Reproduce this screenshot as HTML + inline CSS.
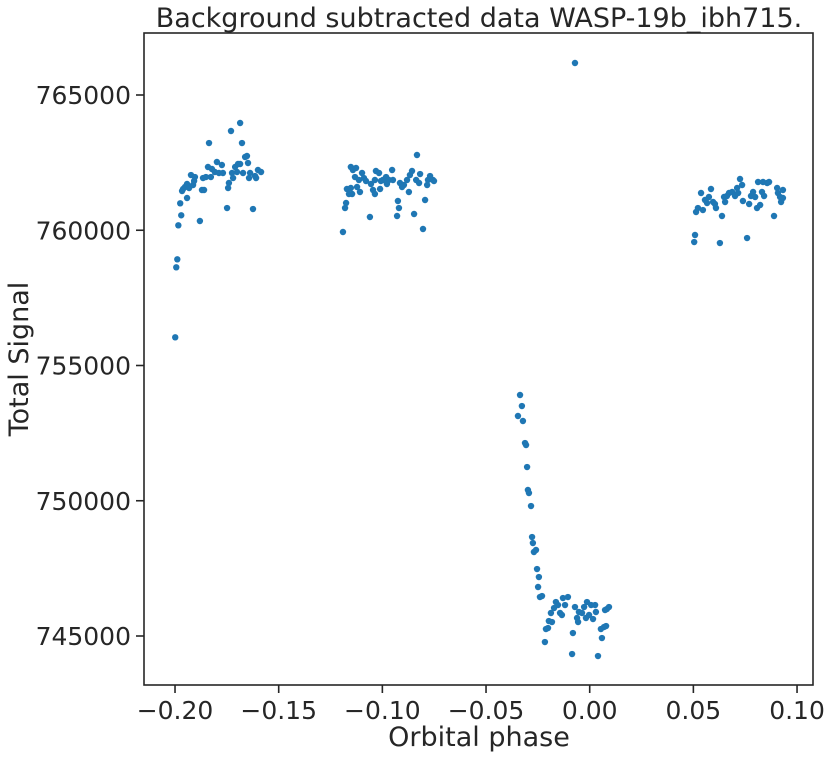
<!DOCTYPE html>
<html><head><meta charset="utf-8"><style>
html,body{margin:0;padding:0;background:#fff;}
svg{display:block;font-family:"DejaVu Sans","Liberation Sans",sans-serif;}
</style></head><body>
<svg id="chart" width="831" height="759" viewBox="0 0 831 759" xmlns="http://www.w3.org/2000/svg">
<rect x="0" y="0" width="831" height="759" fill="#fff"/>
<text x="479" y="27" font-size="27" text-anchor="middle" fill="#262626">Background subtracted data WASP-19b_ibh715.</text>
<g id="points"></g>
<g id="axes"></g>
<rect x="144" y="33" width="669" height="652" fill="none" stroke="#262626" stroke-width="1.6"/>
<text x="479" y="746" font-size="27" text-anchor="middle" fill="#262626">Orbital phase</text>
<text transform="translate(28,359) rotate(-90)" font-size="27" text-anchor="middle" fill="#262626">Total Signal</text>
</svg>
<script>
const xTicks = [-0.20, -0.15, -0.10, -0.05, 0.00, 0.05, 0.10];
const xTickLabels = ["\u22120.20","\u22120.15","\u22120.10","\u22120.05","0.00","0.05","0.10"];
const yTicks = [745000, 750000, 755000, 760000, 765000];
const yTickLabels = ["745000","750000","755000","760000","765000"];
const phase = [
-0.1999,-0.1994,-0.1989,-0.1984,-0.1970,-0.1975,-0.1966,-0.1961,-0.1952,-0.1942,-0.1942,-0.1932,-0.1923,-0.1913,-0.1904,-0.1908,-0.1880,-0.1870,-0.1860,-0.1865,-0.1851,-0.1836,-0.1841,-0.1827,-0.1822,-0.1808,-0.1798,-0.1788,-0.1774,-0.1769,-0.1749,-0.1744,-0.1740,-0.1730,-0.1725,-0.1720,-0.1710,-0.1701,-0.1696,-0.1686,-0.1686,-0.1677,-0.1672,-0.1662,-0.1653,-0.1648,-0.1638,-0.1643,-0.1624,-0.1614,-0.1609,-0.1600,-0.1585,
-0.1190,-0.1180,-0.1175,-0.1171,-0.1161,-0.1152,-0.1146,-0.1152,-0.1142,-0.1127,-0.1132,-0.1122,-0.1113,-0.1108,-0.1098,-0.1089,-0.1079,-0.1060,-0.1055,-0.1045,-0.1036,-0.1036,-0.1031,-0.1016,-0.1011,-0.1007,-0.0997,-0.0982,-0.0978,-0.0968,-0.0953,-0.0949,-0.0929,-0.0925,-0.0920,-0.0915,-0.0905,-0.0896,-0.0881,-0.0872,-0.0867,-0.0857,-0.0847,-0.0837,-0.0833,-0.0823,-0.0818,-0.0804,-0.0794,-0.0784,-0.0780,-0.0770,-0.0756,-0.0751,
-0.0336,-0.0327,-0.0346,-0.0322,-0.0312,-0.0307,-0.0302,-0.0298,-0.0293,-0.0283,-0.0278,-0.0274,-0.0269,-0.0259,-0.0254,-0.0245,-0.0249,-0.0240,-0.0230,-0.0216,-0.0211,-0.0201,-0.0197,-0.0187,-0.0182,-0.0172,-0.0163,-0.0153,-0.0143,-0.0134,-0.0129,-0.0119,-0.0105,-0.0085,-0.0081,-0.0071,-0.0061,-0.0056,-0.0052,-0.0037,-0.0027,-0.0018,-0.0013,-0.0003,0.0007,0.0016,0.0026,0.0030,0.0040,0.0054,0.0059,0.0069,0.0079,0.0074,0.0083,0.0093,-0.0071,
0.0504,0.0508,0.0513,0.0522,0.0537,0.0546,0.0556,0.0566,0.0575,0.0585,0.0595,0.0604,0.0609,0.0628,0.0638,0.0648,0.0653,0.0662,0.0672,0.0687,0.0701,0.0711,0.0716,0.0725,0.0735,0.0739,0.0759,0.0769,0.0778,0.0788,0.0798,0.0807,0.0812,0.0822,0.0831,0.0836,0.0841,0.0856,0.0865,0.0889,0.0904,0.0908,0.0918,0.0923,0.0932,0.0932
];
const signal = [
756042,758630,758926,760183,760553,760996,761451,761525,761599,761192,761710,761562,762042,761673,761968,761821,760342,761488,761488,761931,761968,763225,762338,761968,762264,762153,762523,762116,762412,762116,760822,761562,761747,763669,762116,761931,762338,762153,762449,762449,763965,763225,762116,762708,762745,762486,762116,761931,760785,762005,761931,762227,762153,
759935,760822,761007,761525,761340,761562,761340,762338,762227,762301,761968,761599,761858,761414,762116,761931,761821,760490,761710,761488,761858,761340,762190,762116,761525,761821,761858,761968,761710,761858,762227,761858,760527,761081,760822,761747,761599,761673,761858,761414,762042,762190,760601,761858,762782,761747,762079,760046,761118,761673,761858,762005,761858,761821,
753909,753502,753133,752948,752134,752060,751247,750397,750286,749805,748659,748437,748105,748179,747476,747180,746811,746441,746478,744777,745258,745295,745554,745850,745517,746034,746256,746145,745850,745776,746404,746145,746441,744334,745110,746071,745665,745517,745887,745850,746071,745665,746256,745776,746145,745628,746145,745887,744260,745258,744925,745332,745369,745960,745997,746071,766183,
759565,759824,760675,760822,761377,760748,761118,761007,761229,761525,761044,760970,760822,759528,760527,761229,761044,761266,761377,761414,761266,761562,761377,761895,761673,761081,759713,760970,761266,761414,761229,760822,761784,760933,761414,761784,761266,761747,761784,760527,761562,761377,761229,761044,761488,761192
];
const NS = "http://www.w3.org/2000/svg";
function xScale(v){ return 589.7 + v * 2073.4; }
function yScale(v){ return 95 + (765000 - v) / 5000 * 135.25; }
const pts = document.getElementById('points');
for (let i = 0; i < phase.length; i++) {
  const c = document.createElementNS(NS, 'circle');
  c.setAttribute('cx', xScale(phase[i]));
  c.setAttribute('cy', yScale(signal[i]));
  c.setAttribute('r', 3.2);
  c.setAttribute('fill', '#1f77b4');
  
  
  pts.appendChild(c);
}
const axes = document.getElementById('axes');
xTicks.forEach((t, i) => {
  const x = xScale(t);
  const l = document.createElementNS(NS, 'line');
  l.setAttribute('x1', x); l.setAttribute('x2', x);
  l.setAttribute('y1', 685); l.setAttribute('y2', 693);
  l.setAttribute('stroke', '#262626'); l.setAttribute('stroke-width', 1.6);
  
  
  axes.appendChild(l);
  const tx = document.createElementNS(NS, 'text');
  tx.setAttribute('x', x); tx.setAttribute('y', 719);
  tx.setAttribute('font-size', 25); tx.setAttribute('text-anchor', 'middle');
  tx.setAttribute('fill', '#262626');
  tx.textContent = xTickLabels[i];
  
  
  axes.appendChild(tx);
});
yTicks.forEach((t, i) => {
  const y = yScale(t);
  const l = document.createElementNS(NS, 'line');
  l.setAttribute('x1', 136); l.setAttribute('x2', 144);
  l.setAttribute('y1', y); l.setAttribute('y2', y);
  l.setAttribute('stroke', '#262626'); l.setAttribute('stroke-width', 1.6);
  
  
  axes.appendChild(l);
  const tx = document.createElementNS(NS, 'text');
  tx.setAttribute('x', 131); tx.setAttribute('y', y + 9);
  tx.setAttribute('font-size', 25); tx.setAttribute('text-anchor', 'end');
  tx.setAttribute('fill', '#262626');
  tx.textContent = yTickLabels[i];
  
  
  axes.appendChild(tx);
});
</script>
</body></html>
